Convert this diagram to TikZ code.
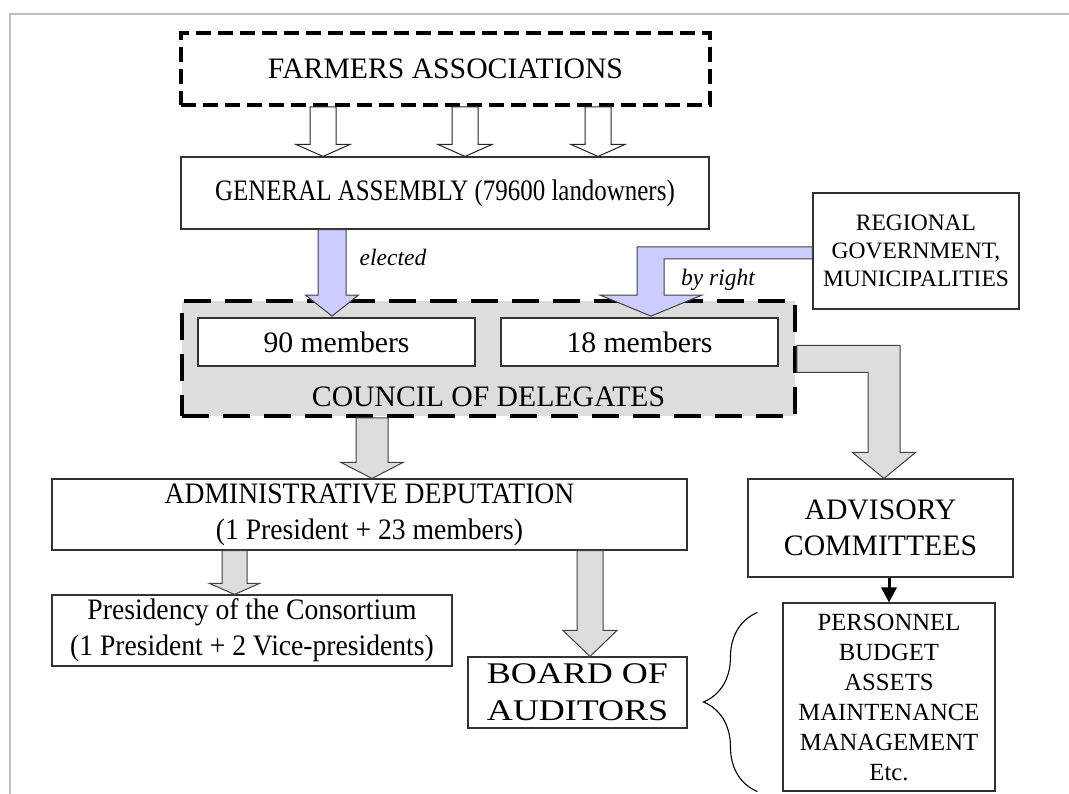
\documentclass[tikz,border=0pt]{standalone}
\usepackage{fontspec}
\setmainfont{Liberation Serif}
\newfontfamily\largefont[FakeStretch=1.2]{Liberation Serif}
\newfontfamily\condfont[FakeStretch=0.84]{Liberation Serif}
\newfontfamily\semifont[FakeStretch=0.93]{Liberation Serif}
\usepackage{tikz}
\usetikzlibrary{calc,positioning,arrows.meta,decorations.pathreplacing}
\definecolor{lavande}{HTML}{CCCCFF}
\definecolor{grisclair}{HTML}{DDDDDD}
\definecolor{cadre}{HTML}{C0C0C0}
\newcommand{\grandtxt}{\fontsize{29.7}{36}\selectfont}
\newcommand{\admintxt}{\semifont\fontsize{29.7}{36}\selectfont}
\newcommand{\assembtxt}{\condfont\fontsize{29.7}{36}\selectfont}
\newcommand{\moyentxt}{\fontsize{24.7}{30}\selectfont}
\newcommand{\petittxt}{\fontsize{23.5}{28}\selectfont}
\newcommand{\largetxt}{\largefont\fontsize{30}{37}\selectfont}
% fleche pleine vers le bas : style, depart (y), pointe, demi-fut, demi-tete, longueur tete
\newcommand{\FlecheBas}[6]{%
 \path[#1] let \p1=#2, \p2=#3 in
  (\x2-#4,\y1) -- (\x2+#4,\y1) -- (\x2+#4,\y2+#6) -- (\x2+#5,\y2+#6)
  -- (\x2,\y2) -- (\x2-#5,\y2+#6) -- (\x2-#4,\y2+#6) -- cycle;}
\tikzset{
Boite/.style={
 draw=black!80,
 line width=1.1pt,
 fill=white,
 align=center,
 inner sep=0pt,
 font=\grandtxt
 },
BoiteTirets/.style={
 draw=black,
 line width=3.8pt,
 dash pattern=on 15pt off 7pt,
 inner sep=0pt
 },
FlecheCreuse/.style={
 draw=black!85,
 line width=1pt,
 fill=white
 },
FlecheBleue/.style={
 draw=black!75,
 line width=1pt,
 fill=lavande
 },
FlecheGrise/.style={
 draw=black!75,
 line width=1pt,
 fill=grisclair
 },
FlecheNoire/.style={
 draw=black,
 line width=3pt,
 -{Triangle[width=15pt,length=15pt]}
 },
Accolade/.style={
 draw=black,
 line width=1.1pt,
 decorate,
 decoration={brace,amplitude=54pt,aspect=0.5}
 }
}
\begin{document}
\begin{tikzpicture}[x=1pt,y=-1pt]
\useasboundingbox (0,0) rectangle (1069,794);
\draw[cadre,line width=2.5pt] (10,794) -- (10,14) -- (1069,14);
% boites
\node[BoiteTirets,minimum width=529pt,minimum height=72pt,font=\grandtxt] (farmers) at (445.5,69) {FARMERS ASSOCIATIONS};
\node[Boite,minimum width=528pt,minimum height=72pt,font=\assembtxt] (general) at (445,193) {GENERAL ASSEMBLY (79600 landowners)};
\node[Boite,minimum width=206pt,minimum height=116pt,font=\petittxt] (regional) at (916,251) {REGIONAL\\GOVERNMENT,\\MUNICIPALITIES};
\node[BoiteTirets,fill=grisclair,dash pattern=on 27pt off 14pt,minimum width=613pt,minimum height=115pt] (council) at (488.5,358.5) {};
\node[inner sep=0pt,font=\grandtxt,above=11pt of council.south] (counciltxt) {COUNCIL OF DELEGATES};
\node[Boite,minimum width=635pt,minimum height=71pt,font=\admintxt] (admin) at (369.5,514.5) {ADMINISTRATIVE DEPUTATION\\(1 President + 23 members)};
\node[Boite,minimum width=400pt,minimum height=71pt,font=\admintxt] (presid) at (252,630.5) {Presidency of the Consortium\\(1 President + 2 Vice-presidents)};
\node[Boite,minimum width=219pt,minimum height=71pt,font=\largetxt] (board) at (577.5,692.5) {BOARD OF\\AUDITORS};
\node[Boite,minimum width=265pt,minimum height=98pt] (advisory) at (880.5,528) {ADVISORY\\COMMITTEES};
\node[Boite,minimum width=212pt,minimum height=188pt,font=\moyentxt] (tasks) at (889,697) {PERSONNEL\\BUDGET\\ASSETS\\MAINTENANCE\\MANAGEMENT\\Etc.};
% fleches
\FlecheBas{FlecheCreuse}{(farmers.south)}{($(general.north)+(-122,0)$)}{13pt}{27pt}{12pt}
\FlecheBas{FlecheCreuse}{(farmers.south)}{($(general.north)+(20,0)$)}{13pt}{27pt}{12pt}
\FlecheBas{FlecheCreuse}{(farmers.south)}{($(general.north)+(153,0)$)}{13pt}{27pt}{12pt}
\FlecheBas{FlecheBleue}{(general.south)}{($(council.north)+(-156.5,17)$)}{14pt}{26.5pt}{21pt}
\path[FlecheBleue] let \p1=(regional.west), \p2=($(council.north)+(162.5,17)$) in
 (\x1,\y1+4pt) -- (\x2-14pt,\y1+4pt) -- (\x2-14pt,\y2+21pt) -- (\x2-51pt,\y2+21pt)
 -- (\x2,\y2) -- (\x2+51pt,\y2+21pt) -- (\x2+13pt,\y2+21pt) -- (\x2+13pt,\y1-8pt)
 -- (\x1,\y1-8pt) -- cycle;
\node[Boite,minimum width=277pt,minimum height=48pt] (m90) at (336.5,342) {90 members};
\node[Boite,minimum width=277pt,minimum height=48pt] (m18) at (639.5,342) {18 members};
\node[font=\petittxt\itshape,inner sep=0pt] (elu) at (393,257) {elected};
\node[font=\petittxt\itshape,inner sep=0pt] (droit) at (718,280) {by right};
\path[FlecheGrise] let \p1=(council.east), \p2=($(advisory.north)+(3.5,0)$) in
 (\x1,\y1+13pt) -- (\x2+16pt,\y1+13pt) -- (\x2+16pt,\y2+26pt) -- (\x2+31.5pt,\y2+26pt)
 -- (\x2,\y2) -- (\x2-31.5pt,\y2+26pt) -- (\x2-16pt,\y2+26pt) -- (\x2-16pt,\y1-14pt)
 -- (\x1,\y1-14pt) -- cycle;
\FlecheBas{FlecheGrise}{(council.south)}{($(admin.north)+(2.5,0)$)}{16pt}{31pt}{16pt}
\FlecheBas{FlecheGrise}{(admin.south)}{($(presid.north)+(-17.5,0)$)}{12.5pt}{25pt}{11pt}
\FlecheBas{FlecheGrise}{(admin.south)}{($(board.north)+(12.5,0)$)}{13pt}{27pt}{26pt}
\draw[FlecheNoire] (advisory.south -| tasks.north) -- (tasks.north);
\draw[Accolade] ($(tasks.south west)+(-25,0)$) -- ($(tasks.north west)+(-25,10)$);
\end{tikzpicture}
\end{document}
